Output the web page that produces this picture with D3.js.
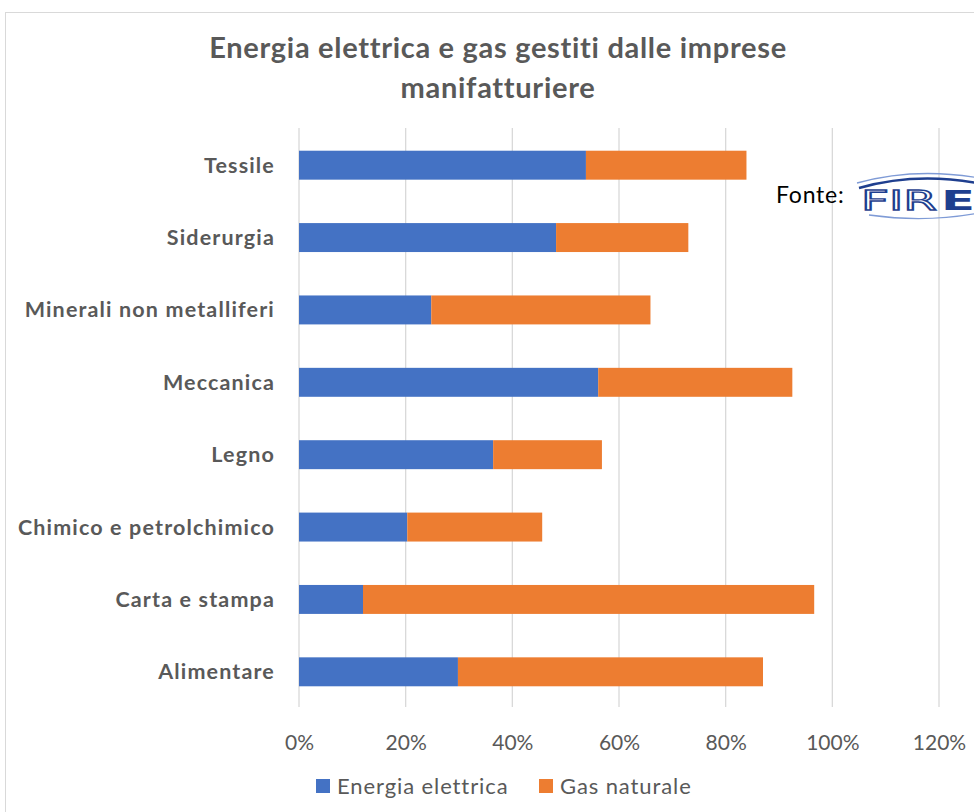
<!DOCTYPE html>
<html><head><meta charset="utf-8">
<script src="https://cdn.jsdelivr.net/npm/d3@7"></script>
<style>body{margin:0;background:#fff}svg{display:block}</style>
</head><body>
<script>
const categories = ["Tessile","Siderurgia","Minerali non metalliferi","Meccanica","Legno","Chimico e petrolchimico","Carta e stampa","Alimentare"];
const energiaElettrica = [53.8,48.2,24.8,56.1,36.4,20.3,12.0,29.8];
const gasNaturale = [30.1,24.8,41.1,36.4,20.4,25.3,84.6,57.2];
const seriesNames = ["Energia elettrica","Gas naturale"];
const xTicks = [0,20,40,60,80,100,120];
const colors = ["#4472C4","#ED7D31"];

const W=974,H=812;
const svg=d3.select("body").append("svg").attr("width",W).attr("height",H);
const font="Lato, 'Open Sans', sans-serif";
svg.append("rect").attr("x",5.5).attr("y",12.5).attr("width",W+10).attr("height",H+10).attr("fill","#fff").attr("stroke","#d9d9d9");

const x=d3.scaleLinear().domain([0,120]).range([299,939]);
const y=d3.scaleBand().domain(categories).range([129,708]).paddingInner(0.6).paddingOuter(0.3);

// gridlines
svg.append("g").selectAll("line").data(xTicks).join("line")
 .attr("x1",d=>x(d)).attr("x2",d=>x(d)).attr("y1",128).attr("y2",707)
 .attr("stroke","#d9d9d9").attr("stroke-width",1.3);

const data=categories.map((c,i)=>({c,e:energiaElettrica[i],g:gasNaturale[i]}));
const stack=d3.stack().keys(["e","g"])(data);
svg.append("g").selectAll("g").data(stack).join("g").attr("fill",(d,i)=>colors[i])
 .selectAll("rect").data(d=>d).join("rect")
 .attr("x",d=>x(d[0])).attr("width",d=>x(d[1])-x(d[0]))
 .attr("y",d=>y(d.data.c)).attr("height",y.bandwidth());

// category labels
svg.append("g").selectAll("text").data(categories).join("text")
 .attr("x",275).attr("y",d=>y(d)+y.bandwidth()/2).attr("dy","0.35em")
 .attr("text-anchor","end").attr("font-family",font).attr("font-weight","bold")
 .attr("font-size",21.5).attr("letter-spacing",1.15).attr("fill","#595959").text(d=>d);

// x axis labels
const xa=svg.append("g").attr("transform","translate(0,707)").call(d3.axisBottom(x).tickValues(xTicks).tickFormat(d=>d+"%").tickSize(0).tickPadding(28));
xa.select(".domain").remove();
xa.selectAll("text").attr("font-family",font).attr("font-size",21).attr("fill","#595959");

// title
const t=svg.append("text").attr("text-anchor","middle").attr("font-family",font).attr("font-weight","bold").attr("font-size",29).attr("letter-spacing",0.7).attr("fill","#595959");
t.append("tspan").attr("x",498).attr("y",58).text("Energia elettrica e gas gestiti dalle imprese");
t.append("tspan").attr("x",498).attr("y",98).text("manifatturiere");

// legend
const lg=svg.append("g").selectAll("g").data(seriesNames).join("g")
 .attr("transform",(d,i)=>`translate(${[316,539][i]},779)`);
lg.append("rect").attr("width",14).attr("height",14).attr("fill",(d,i)=>colors[i]);
lg.append("text").attr("x",21).attr("y",7).attr("dy","0.35em").attr("font-family",font).attr("font-size",22).attr("letter-spacing",0.9).attr("fill","#595959").text(d=>d);

// source
svg.append("text").attr("x",776).attr("y",203).attr("font-family",font).attr("font-size",23).attr("letter-spacing",0.8).attr("fill","#000").text("Fonte:");
const logo=svg.append("g").attr("transform","translate(855,176)");
logo.append("path").attr("d","M4,12 Q60,-4 122,7").attr("fill","none").attr("stroke","#1f3f8f").attr("stroke-width",2.5);
logo.append("path").attr("d","M2,7 Q60,-9 124,2").attr("fill","none").attr("stroke","#7f9bd6").attr("stroke-width",1.3);
logo.append("path").attr("d","M14,39 Q70,47 124,37").attr("fill","none").attr("stroke","#7f9bd6").attr("stroke-width",1.3);
logo.append("text").attr("x",6).attr("y",34).attr("font-family","'DejaVu Sans', sans-serif").attr("font-size",26).attr("fill","#fff").attr("stroke","#1f3f8f").attr("stroke-width",1.3)
 .attr("textLength",76).attr("lengthAdjust","spacingAndGlyphs").text("FIR");
logo.append("text").attr("x",86).attr("y",34).attr("font-family","'DejaVu Sans', sans-serif").attr("font-weight","bold").attr("font-size",27).attr("fill","#1f3f8f")
 .attr("textLength",34).attr("lengthAdjust","spacingAndGlyphs").text("E");
</script>
</body></html>
